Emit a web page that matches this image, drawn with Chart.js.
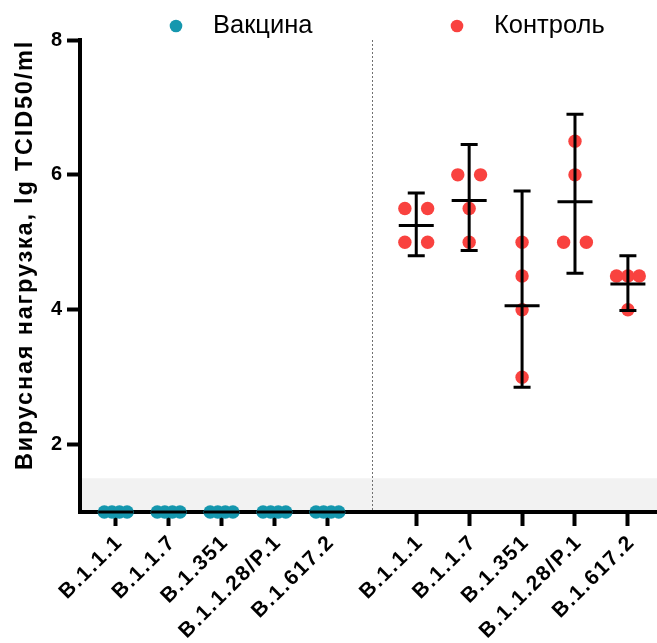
<!DOCTYPE html>
<html lang="ru">
<head>
<meta charset="UTF-8">
<title>Вирусная нагрузка</title>
<script src="https://cdn.jsdelivr.net/npm/chart.js"></script>
<style>
  html, body { margin: 0; padding: 0; background: #fff; }
  #wrap { width: 657px; height: 643px; }
</style>
</head>
<body>
<div id="wrap"><canvas id="chart"></canvas></div>
<script>
const variants = ['B.1.1.1', 'B.1.1.7', 'B.1.351', 'B.1.1.28/P.1', 'B.1.617.2'];

// lg TCID50/ml per animal, vaccinated animals are all at the bottom of the axis
const vaccineValues = [
  [1, 1, 1, 1],
  [1, 1, 1, 1],
  [1, 1, 1, 1],
  [1, 1, 1, 1],
  [1, 1, 1, 1]
];
const vaccineMean = [1, 1, 1, 1, 1];
const vaccineLow  = [1, 1, 1, 1, 1];
const vaccineHigh = [1, 1, 1, 1, 1];

const controlValues = [
  [5.5, 5.5, 5, 5],
  [6, 6, 5.5, 5],
  [5, 4.5, 4, 3],
  [6.5, 6, 5, 5],
  [4.5, 4.5, 4.5, 4]
];
const controlMean = [5.25, 5.62, 4.06, 5.6, 4.38];
const controlLow  = [4.8, 4.88, 2.85, 4.54, 3.99];
const controlHigh = [5.73, 6.45, 5.76, 6.9, 4.8];

const yTicks = [2, 4, 6, 8];
const detectionLimit = 1.5;

const TEAL = '#1597ae';
const RED = '#f9423f';
const FONT = "'Liberation Sans', Arial, sans-serif";

// two groups of categories on one linear axis, with some room between them
const groupGap = 0.68;
const vaccinePos = variants.map((v, i) => i);
const controlPos = variants.map((v, i) => i + variants.length + groupGap);
const breakPos = (vaccinePos[vaccinePos.length - 1] + controlPos[0]) / 2;
const tickPos = vaccinePos.concat(controlPos);
const tickLabels = variants.concat(variants);

// spread equal values sideways so the dots don't sit on top of each other
function swarm(groups, positions) {
  const pts = [];
  groups.forEach((vals, g) => {
    const counts = {};
    vals.forEach(v => { counts[v] = (counts[v] || 0) + 1; });
    const seen = {};
    vals.forEach(v => {
      const n = counts[v];
      const k = seen[v] = (seen[v] === undefined ? 0 : seen[v] + 1);
      const dx = n > 1 ? (k - (n - 1) / 2) * 0.43 / (n - 1) : 0;
      pts.push({ x: positions[g] + dx, y: v });
    });
  });
  return pts;
}

const statsPlugin = {
  id: 'groupStats',
  beforeDraw(chart) {
    const { ctx, chartArea: a, scales: { x, y } } = chart;
    ctx.letterSpacing = '0px';
    ctx.save();
    const yl = y.getPixelForValue(detectionLimit);
    ctx.fillStyle = '#f2f2f2';
    ctx.fillRect(a.left, yl, a.right - a.left, a.bottom - yl);
    const xb = Math.round(x.getPixelForValue(breakPos)) + 0.5;
    ctx.strokeStyle = '#707070';
    ctx.lineWidth = 1;
    ctx.setLineDash([2, 2]);
    ctx.beginPath();
    ctx.moveTo(xb, a.top);
    ctx.lineTo(xb, a.bottom);
    ctx.stroke();
    ctx.restore();
  },
  afterDatasetsDraw(chart) {
    const { ctx, scales: { x, y } } = chart;
    ctx.save();
    ctx.strokeStyle = '#000';
    ctx.lineWidth = 3;
    chart.data.datasets.forEach(ds => {
      const s = ds.stats;
      s.pos.forEach((p, i) => {
        const cx = x.getPixelForValue(p);
        const ym = y.getPixelForValue(s.mean[i]);
        const ylo = y.getPixelForValue(s.low[i]);
        const yhi = y.getPixelForValue(s.high[i]);
        ctx.beginPath();
        ctx.moveTo(cx - 17.5, ym);
        ctx.lineTo(cx + 17.5, ym);
        if (s.high[i] > s.low[i]) {
          ctx.moveTo(cx, ylo);
          ctx.lineTo(cx, yhi);
          ctx.moveTo(cx - 8.5, ylo);
          ctx.lineTo(cx + 8.5, ylo);
          ctx.moveTo(cx - 8.5, yhi);
          ctx.lineTo(cx + 8.5, yhi);
        }
        ctx.stroke();
      });
    });
    ctx.restore();
    // the axis texts drawn after this point are spaced out like the original
    ctx.letterSpacing = '1.8px';
  },
  afterDraw(chart) {
    const { ctx } = chart;
    ctx.letterSpacing = '0px';
    const legendX = [176, 457];
    ctx.save();
    ctx.font = '25.5px ' + FONT;
    ctx.textBaseline = 'middle';
    chart.data.datasets.forEach((ds, i) => {
      ctx.fillStyle = ds.backgroundColor;
      ctx.beginPath();
      ctx.arc(legendX[i], 26, 6.3, 0, Math.PI * 2);
      ctx.fill();
      ctx.fillStyle = '#000';
      ctx.fillText(ds.label, legendX[i] + 37, 26);
    });
    ctx.restore();
  }
};

new Chart(document.getElementById('chart'), {
  type: 'scatter',
  data: {
    datasets: [
      {
        label: 'Вакцина',
        data: swarm(vaccineValues, vaccinePos),
        backgroundColor: TEAL,
        pointRadius: 6.7,
        borderWidth: 0,
        clip: false,
        stats: { pos: vaccinePos, mean: vaccineMean, low: vaccineLow, high: vaccineHigh }
      },
      {
        label: 'Контроль',
        data: swarm(controlValues, controlPos),
        backgroundColor: RED,
        pointRadius: 6.7,
        borderWidth: 0,
        clip: false,
        stats: { pos: controlPos, mean: controlMean, low: controlLow, high: controlHigh }
      }
    ]
  },
  options: {
    responsive: true,
    maintainAspectRatio: false,
    animation: false,
    events: [],
    layout: { autoPadding: false, padding: { top: 40, left: 0, right: 0, bottom: 0 } },
    plugins: {
      legend: { display: false },
      tooltip: { enabled: false }
    },
    scales: {
      x: {
        type: 'linear',
        min: -0.675,
        max: 10.23,
        afterBuildTicks: s => { s.ticks = tickPos.map(v => ({ value: v })); },
        afterFit: s => { s.height = 131; s.paddingLeft = 0; s.paddingRight = 0; },
        grid: { drawOnChartArea: false, drawTicks: true, tickLength: 14, tickWidth: 4, tickColor: '#000' },
        border: { display: true, width: 4, color: '#000' },
        ticks: {
          z: 1,
          autoSkip: false,
          minRotation: 45,
          maxRotation: 45,
          padding: 4,
          labelOffset: 4,
          color: '#000',
          font: { family: FONT, size: 21, weight: 'bold' },
          callback: (v, i) => tickLabels[i]
        }
      },
      y: {
        min: 1,
        max: 8,
        afterBuildTicks: s => { s.ticks = yTicks.map(v => ({ value: v })); },
        afterFit: s => { s.width = 80; },
        grid: { z: 1, drawOnChartArea: false, drawTicks: true, tickLength: 13, tickWidth: 4, tickColor: '#000' },
        border: { display: true, z: 1, width: 4, color: '#000' },
        ticks: {
          padding: 5,
          color: '#000',
          font: { family: FONT, size: 20, weight: 'bold' }
        },
        title: {
          display: true,
          text: 'Вирусная нагрузка, lg TCID50/ml',
          align: 'end',
          color: '#000',
          padding: { top: 11, bottom: 0 },
          font: { family: FONT, size: 23.5, weight: 'bold', lineHeight: 1.2 }
        }
      }
    }
  },
  plugins: [statsPlugin]
});
</script>
</body>
</html>
